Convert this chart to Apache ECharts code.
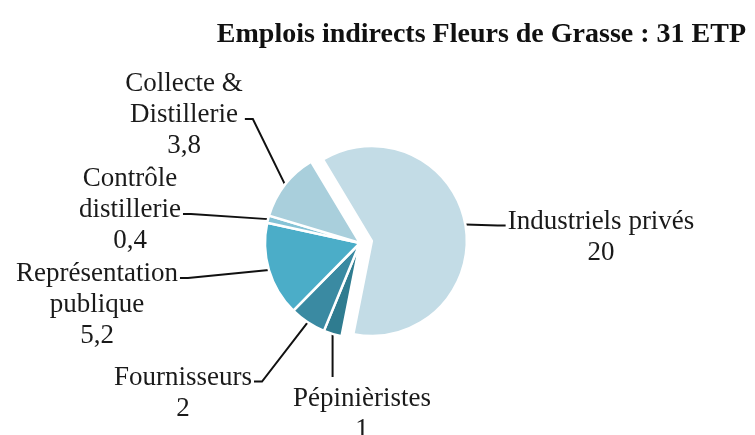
<!DOCTYPE html>
<html>
<head>
<meta charset="utf-8">
<script src="https://cdn.jsdelivr.net/npm/echarts@6/dist/echarts.min.js"></script>
<style>
  html, body { margin: 0; padding: 0; background: #fff; }
  #chart { width: 755px; height: 435px; }
</style>
</head>
<body>
<div id="chart"></div>
<script>
// slices in clockwise order, the first one is pulled out of the pie
const categories = ['Industriels privés', 'Pépinièristes', 'Fournisseurs',
  'Représentation\npublique', 'Contrôle\ndistillerie', 'Collecte &\nDistillerie'];
const values = [20, 1, 2, 5.2, 0.4, 3.8];
const valueLabels = ['20', '1', '2', '5,2', '0,4', '3,8'];

const colors = ['#c3dce6', '#2f7c90', '#3a8aa2', '#4badc8', '#86c3d6', '#a9cfdc'];

// centre of each label block and where its leader line hooks on
const labelPlace = [
  { x: 601, y: 237, side: 'left', line: 0 },
  { x: 362, y: 414, side: 'top', line: 0 },
  { x: 183, y: 393, side: 'right', line: 0 },
  { x: 97, y: 305, side: 'right', line: 0 },
  { x: 130, y: 210, side: 'right', line: 1 },
  { x: 184, y: 115, side: 'right', line: 1 }
];
const LINE_H = 31;
const CENTER = [360, 243];
const START = 121;
const EXPLODE = 12;

// direction of the pulled-out slice
let total = values.reduce(function (a, b) { return a + b; }, 0);
let midAng = (START - values[0] / total * 180) * Math.PI / 180;
let center0 = [CENTER[0] + EXPLODE * Math.cos(midAng), CENTER[1] - EXPLODE * Math.sin(midAng)];

function labelLayout(params) {
  const pl = labelPlace[params.dataIndex];
  const w = params.labelRect.width;
  const h = params.labelRect.height;
  const top = pl.y - h / 2;
  const lineY = top + LINE_H * (pl.line + 0.5) + 4; // excel hooks near the baseline
  const start = params.labelLinePoints ? params.labelLinePoints[0] : [pl.x, pl.y];
  let p1, p2;
  if (pl.side === 'right') {
    p2 = [pl.x + w / 2 + 2, lineY];
    p1 = [pl.x + w / 2 + 10, lineY];
  } else if (pl.side === 'left') {
    p2 = [pl.x - w / 2 - 2, lineY];
    p1 = [pl.x - w / 2 - 10, lineY];
  } else {
    p2 = [start[0], top - 6];
    p1 = [start[0], top - 6];
  }
  return {
    x: pl.x,
    y: pl.y,
    align: 'center',
    verticalAlign: 'middle',
    labelLinePoints: [start, p1, p2]
  };
}

function makeSeries(center, shown) {
  return {
    type: 'pie',
    center: center,
    radius: 95,
    startAngle: START,
    clockwise: true,
    silent: true,
    avoidLabelOverlap: false,
    itemStyle: { borderColor: '#fff', borderWidth: 2.5 },
    label: {
      show: true,
      position: 'outside',
      formatter: function (p) {
        return p.name + '\n' + valueLabels[p.dataIndex];
      },
      fontFamily: 'Liberation Serif',
      fontSize: 27,
      lineHeight: LINE_H,
      color: '#1a1a1a',
      align: 'center'
    },
    labelLine: { show: true, lineStyle: { color: '#111', width: 2 } },
    labelLayout: labelLayout,
    data: categories.map(function (name, i) {
      const on = shown(i);
      return {
        name: name,
        value: values[i],
        itemStyle: on ? { color: colors[i] } : { color: 'rgba(0,0,0,0)', borderWidth: 0 },
        label: { show: on },
        labelLine: { show: on }
      };
    })
  };
}

let myChart = echarts.init(document.getElementById('chart'));

let option = {
  animation: false,
  title: {
    text: 'Emplois indirects Fleurs de Grasse : 31 ETP',
    right: 4,
    top: 16,
    textStyle: {
      fontFamily: 'Liberation Serif',
      fontWeight: 'bold',
      fontSize: 28,
      color: '#111'
    }
  },
  series: [
    makeSeries(CENTER, function (i) { return i !== 0; }),
    makeSeries(center0, function (i) { return i === 0; })
  ]
};

myChart.setOption(option);
</script>
</body>
</html>
